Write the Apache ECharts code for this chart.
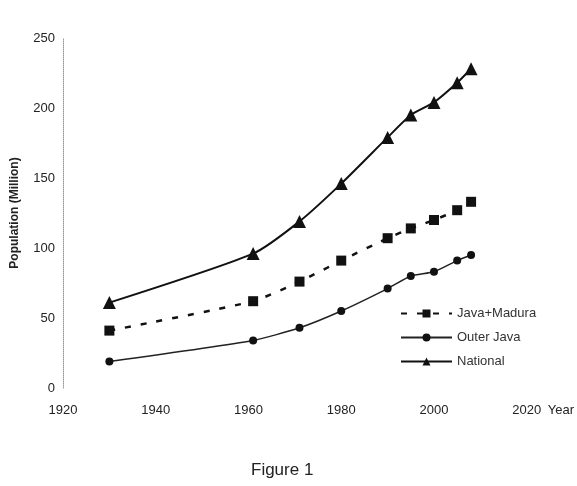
<!DOCTYPE html>
<html>
<head>
<meta charset="utf-8">
<script src="https://cdn.jsdelivr.net/npm/echarts@6/dist/echarts.min.js"></script>
<style>html,body{margin:0;padding:0;background:#fff}#c{width:577px;height:486px}</style>
</head>
<body>
<div id="c"></div>
<script>
var years = [1930, 1961, 1971, 1980, 1990, 1995, 2000, 2005, 2008];
var javaMadura = [41, 62, 76, 91, 107, 114, 120, 127, 133];
var outerJava = [19, 34, 43, 55, 71, 80, 83, 91, 95];
var national = [61, 96, 119, 146, 179, 195, 204, 218, 228];
var xTicks = [1920, 1940, 1960, 1980, 2000, 2020];
var yTicks = [0, 50, 100, 150, 200, 250];

function pairs(vals) { return years.map(function (y, i) { return [y, vals[i]]; }); }

var chart = echarts.init(document.getElementById('c'));
var font = 'Liberation Sans, Arial, sans-serif';
chart.setOption({
  animation: false,
  backgroundColor: '#fff',
  title: {
    text: 'Figure 1', left: 246, top: 457, padding: 5,
    textStyle: { fontFamily: font, fontSize: 17, fontWeight: 'normal', color: '#222' }
  },
  legend: {
    orient: 'vertical', left: 400, top: 307, padding: 0, itemWidth: 51, itemHeight: 10, itemGap: 11,
    textStyle: { fontFamily: font, fontSize: 13, color: '#333' },
    data: ['Java+Madura', 'Outer Java', 'National']
  },
  grid: { left: 63, right: 47, top: 38, bottom: 98 },
  xAxis: {
    type: 'value', min: xTicks[0], max: xTicks[xTicks.length - 1], interval: 20,
    name: 'Year', nameLocation: 'end', nameGap: 21,
    nameTextStyle: { fontFamily: font, fontSize: 13, color: '#222', verticalAlign: 'top', padding: [16, 0, 0, 0] },
    axisLine: { show: false }, axisTick: { show: false }, splitLine: { show: false },
    axisLabel: { fontFamily: font, fontSize: 13, color: '#222', margin: 16,
      formatter: function (v) { return String(v); } }
  },
  yAxis: {
    type: 'value', min: yTicks[0], max: yTicks[yTicks.length - 1], interval: 50,
    name: 'Population (Million)', nameLocation: 'middle', nameGap: 42,
    nameTextStyle: { fontFamily: font, fontSize: 12, fontWeight: 'bold', color: '#222' },
    axisLine: { show: true, lineStyle: { color: '#999', type: 'dotted', width: 1 } },
    axisTick: { show: false }, splitLine: { show: false },
    axisLabel: { fontFamily: font, fontSize: 13, color: '#222', margin: 8 }
  },
  series: [
    {
      name: 'Java+Madura', type: 'line', data: pairs(javaMadura), smooth: 0.2,
      symbol: 'rect', symbolSize: 10,
      lineStyle: { color: '#111', width: 2.5, type: [6, 10] },
      itemStyle: { color: '#111' }
    },
    {
      name: 'Outer Java', type: 'line', data: pairs(outerJava), smooth: 0.2,
      symbol: 'circle', symbolSize: 8,
      lineStyle: { color: '#222', width: 1.5 },
      itemStyle: { color: '#111' }
    },
    {
      name: 'National', type: 'line', data: pairs(national), smooth: 0.2,
      symbol: 'triangle', symbolSize: 13,
      lineStyle: { color: '#111', width: 2 },
      itemStyle: { color: '#111' }
    }
  ]
});
</script>
</body>
</html>
